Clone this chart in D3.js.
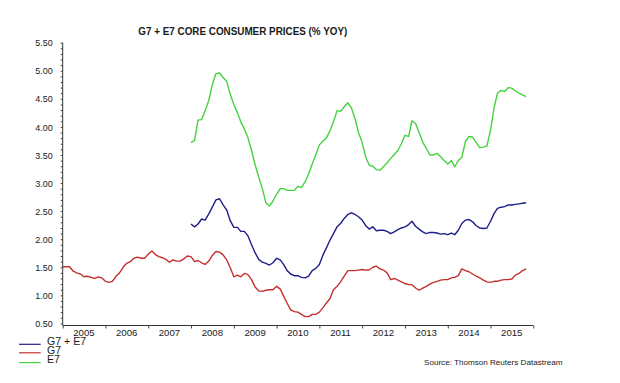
<!DOCTYPE html>
<html>
<head>
<meta charset="utf-8">
<script src="https://cdn.jsdelivr.net/npm/d3@7"></script>
<style>
  html, body { margin: 0; padding: 0; background: #ffffff; }
  svg { display: block; }
  text { font-family: "Liberation Sans", Arial, sans-serif; fill: #1a1a1a; }
</style>
</head>
<body>
<svg id="chart" width="620" height="383"></svg>
<script>
// ---------- DATA (monthly, % y/y) ----------
const title = "G7 + E7 CORE CONSUMER PRICES (% YOY)";
const source = "Source: Thomson Reuters Datastream";
const yearLabels = ["2005","2006","2007","2008","2009","2010","2011","2012","2013","2014","2015"];
const yTickValues = [0.5,1.0,1.5,2.0,2.5,3.0,3.5,4.0,4.5,5.0,5.5];

// G7: Jan 2005 - Nov 2015
const g7Start = "2005-01";
const g7 = [
  1.51,1.51,1.51,1.43,1.40,1.38,1.33,1.34,1.32,1.30,1.33,1.31,
  1.25,1.23,1.25,1.34,1.40,1.50,1.57,1.60,1.66,1.68,1.66,1.66,
  1.73,1.79,1.73,1.69,1.67,1.64,1.59,1.63,1.61,1.61,1.65,1.70,
  1.69,1.60,1.62,1.58,1.55,1.61,1.71,1.78,1.77,1.72,1.63,1.49,
  1.33,1.36,1.33,1.39,1.37,1.28,1.15,1.08,1.07,1.09,1.10,1.10,
  1.16,1.11,0.99,0.86,0.74,0.71,0.70,0.66,0.62,0.62,0.66,0.66,
  0.70,0.78,0.86,0.94,1.10,1.16,1.24,1.34,1.44,1.44,1.44,1.45,
  1.46,1.45,1.45,1.50,1.52,1.47,1.45,1.40,1.28,1.30,1.27,1.24,
  1.21,1.19,1.19,1.13,1.09,1.13,1.16,1.20,1.23,1.25,1.27,1.28,
  1.28,1.31,1.32,1.35,1.47,1.44,1.42,1.38,1.34,1.31,1.27,1.24,
  1.23,1.25,1.25,1.27,1.28,1.28,1.29,1.36,1.39,1.44,1.47
];

// G7 + E7 and E7: Jan 2008 - Nov 2015
const emStart = "2008-01";
const g7e7 = [
  2.27,2.22,2.27,2.36,2.34,2.45,2.57,2.70,2.72,2.61,2.52,2.33,
  2.21,2.21,2.14,2.14,2.06,1.90,1.76,1.64,1.59,1.57,1.54,1.58,
  1.66,1.63,1.55,1.44,1.38,1.35,1.35,1.32,1.31,1.34,1.44,1.48,
  1.55,1.72,1.84,1.98,2.10,2.22,2.28,2.37,2.44,2.47,2.44,2.40,
  2.34,2.24,2.18,2.22,2.15,2.16,2.16,2.14,2.10,2.13,2.17,2.20,
  2.22,2.26,2.32,2.23,2.18,2.13,2.10,2.12,2.12,2.11,2.09,2.10,
  2.08,2.11,2.08,2.16,2.28,2.34,2.35,2.31,2.24,2.20,2.19,2.20,
  2.32,2.46,2.55,2.57,2.58,2.61,2.61,2.62,2.63,2.64,2.65
];
const e7 = [
  3.72,3.76,4.12,4.13,4.29,4.47,4.75,4.95,4.96,4.88,4.81,4.58,
  4.40,4.25,4.09,3.96,3.81,3.58,3.33,3.11,2.90,2.65,2.59,2.68,
  2.80,2.90,2.90,2.87,2.87,2.87,2.94,2.92,3.02,3.16,3.34,3.50,
  3.68,3.75,3.80,3.93,4.09,4.29,4.28,4.36,4.43,4.34,4.15,3.90,
  3.72,3.46,3.32,3.30,3.24,3.23,3.29,3.36,3.44,3.51,3.58,3.70,
  3.85,3.83,4.11,4.06,3.90,3.73,3.62,3.50,3.50,3.53,3.47,3.40,
  3.34,3.40,3.29,3.40,3.46,3.74,3.83,3.82,3.72,3.63,3.64,3.66,
  3.94,4.35,4.60,4.65,4.63,4.70,4.69,4.64,4.60,4.57,4.54
];

const seriesNames = ["G7 + E7", "G7", "E7"];
const seriesColors = ["#1e1e8a", "#c4302e", "#44d23e"];

// ---------- CHART ----------
const svg = d3.select("#chart");
const parseM = d3.timeParse("%Y-%m");

function toPoints(startStr, values) {
  const s = parseM(startStr);
  return values.map((v, i) => ({ date: d3.timeMonth.offset(s, i), value: v }));
}

const x = d3.scaleTime()
  .domain([new Date(2005, 0, 1), new Date(2016, 0, 1)])
  .range([62.7, 533.3]);
const y = d3.scaleLinear().domain([0.5, 5.5]).range([323.4, 42.7]);
const axisY = 325.5;

// Title
svg.append("text")
  .attr("x", 138.3).attr("y", 35)
  .attr("textLength", 209).attr("lengthAdjust", "spacingAndGlyphs")
  .style("font-size", "11.6px").style("font-weight", "bold")
  .text(title);

// Y axis
const yAxis = d3.axisLeft(y)
  .tickValues(d3.range(5, 56).map(d => d / 10))
  .tickSize(2)
  .tickFormat(d => yTickValues.some(t => Math.abs(t - d) < 1e-6) ? d3.format(".2f")(d) : "");
const gy = svg.append("g").attr("transform", "translate(62.7,0)").call(yAxis);
gy.select(".domain").attr("d", `M0,${y(5.5)}V${axisY}`).attr("stroke", "#333");
gy.selectAll(".tick line").attr("stroke", "#444");
gy.selectAll(".tick text")
  .attr("x", -10).attr("dy", "0.35em")
  .style("font-size", "9px").style("font-family", "'Liberation Sans', Arial, sans-serif")
  .attr("fill", "#1a1a1a");

// X axis
const gx = svg.append("g").attr("transform", `translate(0,${axisY})`);
const xAxis = d3.axisBottom(x)
  .tickValues(d3.range(2005, 2017).map(yy => new Date(yy, 0, 1)))
  .tickSize(3).tickFormat("");
gx.call(xAxis);
gx.select(".domain").attr("stroke", "#333").attr("d", `M${x.range()[0]},0H${x.range()[1]}`);
gx.selectAll(".tick line").attr("stroke", "#444");
gx.selectAll(".yearlbl")
  .data(yearLabels)
  .enter().append("text")
  .attr("class", "yearlbl")
  .attr("x", d => x(new Date(+d, 6, 1)))
  .attr("y", 10.3)
  .attr("text-anchor", "middle")
  .style("font-size", "9.6px")
  .text(d => d);

// Lines
const line = d3.line().x(d => x(d.date)).y(d => y(d.value));
const seriesData = [toPoints(emStart, g7e7), toPoints(g7Start, g7), toPoints(emStart, e7)];
const drawOrder = [1, 0, 2];
drawOrder.forEach(i => {
  svg.append("path")
    .datum(seriesData[i])
    .attr("fill", "none")
    .attr("stroke", seriesColors[i])
    .attr("stroke-width", 1.4)
    .attr("stroke-linejoin", "round")
    .attr("d", line);
});

// Legend
const legendY = [344.3, 352.8, 362.6];
const textY = [344.8, 353.6, 363.4];
seriesNames.forEach((name, i) => {
  svg.append("line")
    .attr("x1", 19).attr("x2", 40.7)
    .attr("y1", legendY[i]).attr("y2", legendY[i])
    .attr("stroke", seriesColors[i]).attr("stroke-width", 1.2);
  svg.append("text")
    .attr("x", 47).attr("y", textY[i])
    .style("font-size", "10.6px")
    .text(name);
});

// Source
svg.append("text")
  .attr("x", 424).attr("y", 364.5)
  .style("font-size", "8.1px")
  .text(source);
</script>
</body>
</html>
